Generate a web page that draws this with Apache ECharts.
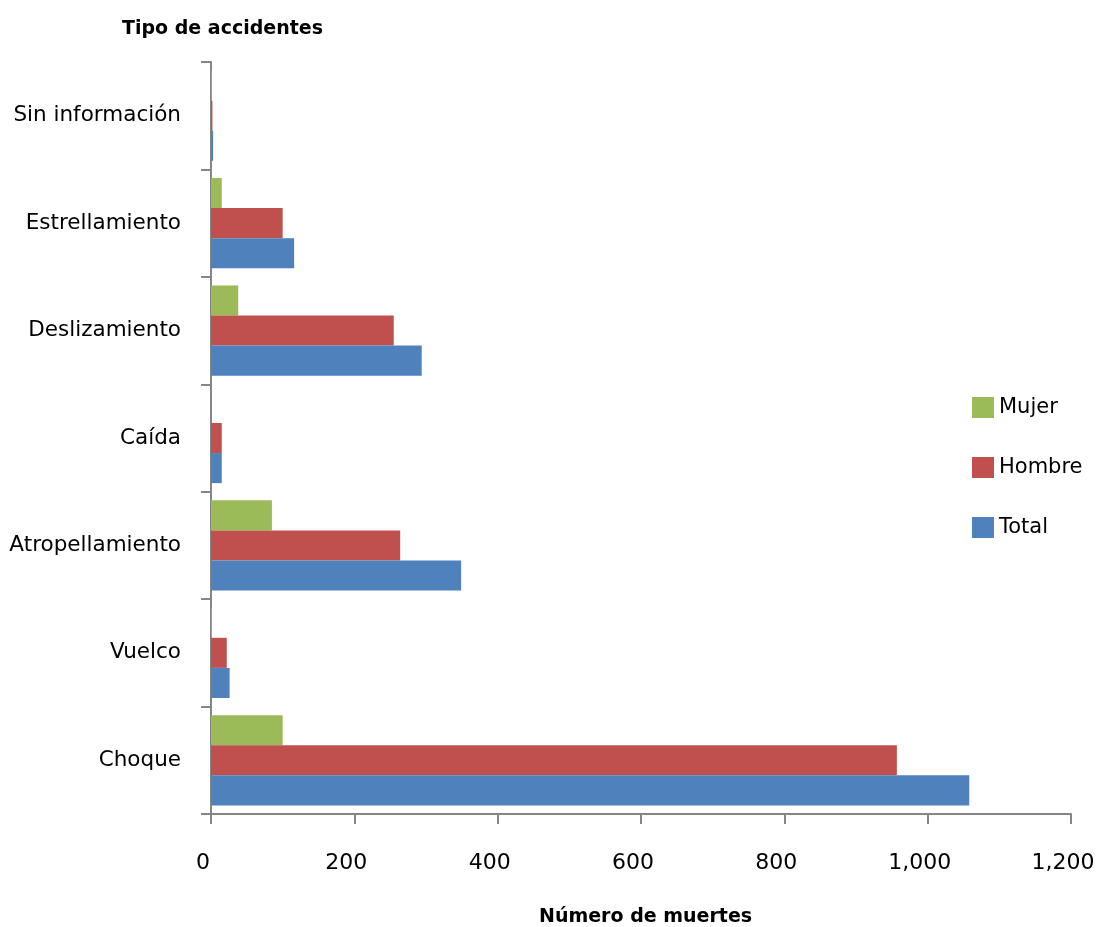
<!DOCTYPE html>
<html><head><meta charset="utf-8">
<script src="https://cdn.jsdelivr.net/npm/echarts@6/dist/echarts.min.js"></script>
<style>html,body{margin:0;padding:0;background:#fff}#c{width:1098px;height:927px}</style>
</head><body><div id="c"></div>
<script>
const categories = ['Choque','Vuelco','Atropellamiento','Caída','Deslizamiento','Estrellamiento','Sin información'];
const total  = [1058, 26, 349, 15, 294, 116, 3];
const hombre = [957, 22, 264, 15, 255, 100, 2];
const mujer  = [100, 1, 85, 0, 38, 15, 1];
const xTicks = [0, 200, 400, 600, 800, 1000, 1200];
const FONT = 'DejaVu Sans';
const chart = echarts.init(document.getElementById('c'));
const axisGray = '#868686';
const common = {type: 'bar', barGap: '0%', barCategoryGap: '16%'};
chart.setOption({
  animation: false,
  textStyle: {fontFamily: FONT, color: '#000'},
  grid: {left: 211, right: 27, top: 62, bottom: 113, containLabel: false, outerBoundsMode: 'none'},
  legend: {
    orient: 'vertical', left: 967, top: 392, itemGap: 39, itemWidth: 22, itemHeight: 21,
    icon: 'rect', data: ['Mujer','Hombre','Total'],
    textStyle: {fontFamily: FONT, fontSize: 21, color: '#000'}
  },
  title: [
    {text: 'Tipo de accidentes', left: 117, top: 15, textStyle: {fontFamily: FONT, fontSize: 19, fontWeight: 'bold', color: '#000'}},
    {text: 'Número de muertes', left: 534, top: 903, textStyle: {fontFamily: FONT, fontSize: 19, fontWeight: 'bold', color: '#000'}}
  ],
  xAxis: {
    type: 'value', min: xTicks[0], max: xTicks[xTicks.length-1], interval: 200,
    splitLine: {show: false},
    axisLine: {show: true, lineStyle: {color: axisGray, width: 2}},
    axisTick: {show: true, length: 10, inside: false, lineStyle: {color: axisGray, width: 2}},
    axisLabel: {margin: 38, fontSize: 22, color: '#000', fontFamily: FONT, padding: [0, 16, 0, 0],
      formatter: v => v.toLocaleString('en-US')}
  },
  yAxis: {
    type: 'category', data: categories,
    axisLine: {show: true, lineStyle: {color: axisGray, width: 2}},
    axisTick: {show: true, length: 10, lineStyle: {color: axisGray, width: 2}},
    axisLabel: {margin: 30, fontSize: 21.5, color: '#000', fontFamily: FONT}
  },
  series: [
    Object.assign({name: 'Mujer', data: mujer, itemStyle: {color: '#9BBB59'}}, common),
    Object.assign({name: 'Hombre', data: hombre, itemStyle: {color: '#C0504D'}}, common),
    Object.assign({name: 'Total', data: total, itemStyle: {color: '#4F81BD'}}, common)
  ]
});
</script></body></html>
